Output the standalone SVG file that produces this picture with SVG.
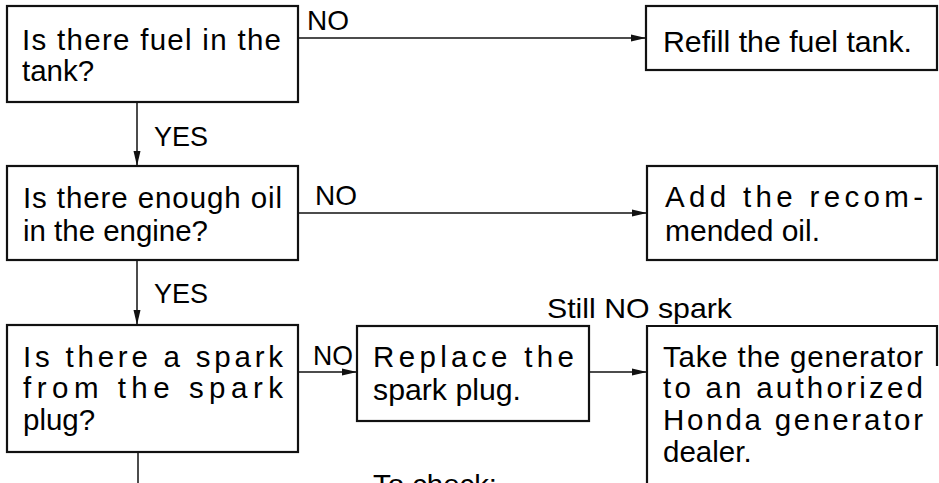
<svg xmlns="http://www.w3.org/2000/svg" width="939" height="483" viewBox="0 0 939 483">
  <style>
    .box { fill: none; stroke: #111; stroke-width: 2.2; }
    .t { font-family: "Liberation Sans", Arial, Helvetica, sans-serif; font-size: 29.5px; fill: #000; }
    .lbl { font-family: "Liberation Sans", Arial, Helvetica, sans-serif; font-size: 28px; fill: #000; }
    .conn { fill: none; stroke: #111; stroke-width: 1.5; }
  </style>
  <defs>
    <marker id="arr" markerUnits="userSpaceOnUse" markerWidth="16" markerHeight="9" refX="15" refY="4.5" orient="auto">
      <path d="M0,1 L15,4.5 L0,8 z" fill="#111"/>
    </marker>
  </defs>
  <rect width="939" height="483" fill="#fff"/>

  <g id="connectors">
    <path class="conn" d="M298,38 H646" marker-end="url(#arr)"/>
    <path class="conn" d="M137,102 V166" marker-end="url(#arr)"/>
    <path class="conn" d="M298,213 H647" marker-end="url(#arr)"/>
    <path class="conn" d="M137,260 V325" marker-end="url(#arr)"/>
    <path class="conn" d="M298,372 H357" marker-end="url(#arr)"/>
    <path class="conn" d="M589,372 H647" marker-end="url(#arr)"/>
    <path class="conn" d="M138,452 V483"/>
    <text class="lbl" x="307" y="30" textLength="42" lengthAdjust="spacingAndGlyphs">NO</text>
    <text class="lbl" x="154" y="146" textLength="54" lengthAdjust="spacingAndGlyphs">YES</text>
    <text class="lbl" x="315" y="205" textLength="42" lengthAdjust="spacingAndGlyphs">NO</text>
    <text class="lbl" x="154" y="303" textLength="54" lengthAdjust="spacingAndGlyphs">YES</text>
    <text class="lbl" x="313" y="365" textLength="40" lengthAdjust="spacingAndGlyphs">NO</text>
    <text class="lbl" x="547" y="318" textLength="185" lengthAdjust="spacingAndGlyphs">Still NO spark</text>
    <text class="lbl" x="373" y="494" textLength="124" lengthAdjust="spacingAndGlyphs">To check:</text>
  </g>

  <g id="q-fuel">
    <rect class="box" x="7" y="6" width="291" height="96"/>
    <text class="t" x="22" y="50" textLength="259" lengthAdjust="spacing">Is there fuel in the</text>
    <text class="t" x="22" y="81">tank?</text>
  </g>

  <g id="a-refill">
    <rect class="box" x="646" y="6" width="291" height="64"/>
    <text class="t" x="663" y="52" textLength="249" lengthAdjust="spacingAndGlyphs">Refill the fuel tank.</text>
  </g>

  <g id="q-oil">
    <rect class="box" x="7" y="166" width="291" height="94"/>
    <text class="t" x="23" y="208" textLength="259" lengthAdjust="spacing">Is there enough oil</text>
    <text class="t" x="23" y="241" textLength="185" lengthAdjust="spacingAndGlyphs">in the engine?</text>
  </g>

  <g id="a-oil">
    <rect class="box" x="647" y="166" width="290" height="94"/>
    <text class="t" x="665" y="207" textLength="258" lengthAdjust="spacing">Add the recom-</text>
    <text class="t" x="665" y="241" textLength="155" lengthAdjust="spacingAndGlyphs">mended oil.</text>
  </g>

  <g id="q-spark">
    <rect class="box" x="7" y="325" width="291" height="127"/>
    <text class="t" x="23" y="367" textLength="260" lengthAdjust="spacing">Is there a spark</text>
    <text class="t" x="23" y="398" textLength="260" lengthAdjust="spacing">from the spark</text>
    <text class="t" x="23" y="430">plug?</text>
  </g>

  <g id="a-replace">
    <rect class="box" x="357" y="326" width="232" height="95"/>
    <text class="t" x="373" y="367" textLength="201" lengthAdjust="spacing">Replace the</text>
    <text class="t" x="373" y="400" textLength="148" lengthAdjust="spacingAndGlyphs">spark plug.</text>
  </g>

  <g id="a-dealer">
    <path class="box" d="M937,366 V326 H647 V490"/>
    <text class="t" x="663" y="367" textLength="260" lengthAdjust="spacing">Take the generator</text>
    <text class="t" x="663" y="398" textLength="260" lengthAdjust="spacing">to an authorized</text>
    <text class="t" x="663" y="430" textLength="260" lengthAdjust="spacing">Honda generator</text>
    <text class="t" x="663" y="462">dealer.</text>
  </g>
</svg>
